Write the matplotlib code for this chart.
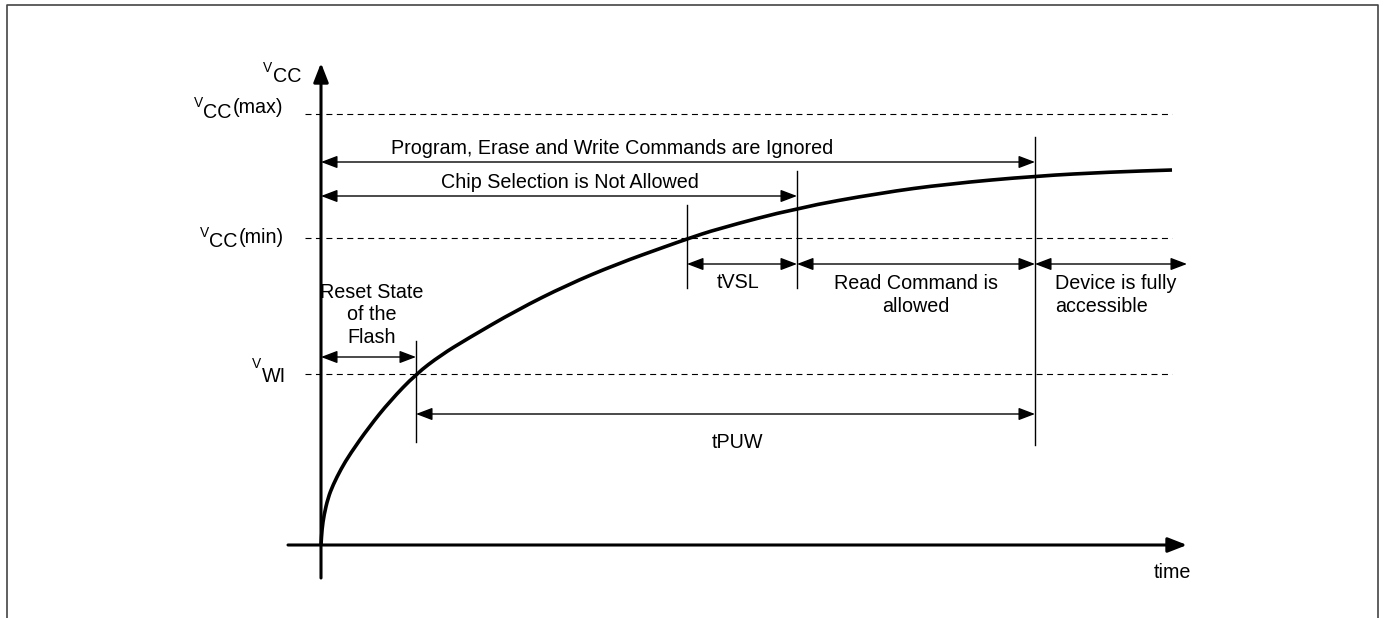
import numpy as np
import matplotlib.pyplot as plt
from matplotlib.path import Path
from matplotlib.patches import PathPatch

plt.rcParams['font.family'] = ['Liberation Sans', 'DejaVu Sans']

# supply voltage curve (time, volts in drawing units)
curve_t = [0, 1, 3, 7, 12, 20, 29, 48, 69, 95, 120, 146, 196, 246, 296, 346,
           366, 396, 476, 559, 626, 715, 790, 851]
curve_v = [0, 16, 30, 47, 60, 76, 91, 118, 144, 171, 190, 206, 235, 260, 281,
           299, 306, 316, 337, 352, 361, 369, 373, 375]

# threshold levels
v_wi = 171
v_min = 307
v_max = 431

# event times
t_wi = 95        # curve crosses VWI
t_min = 366      # curve crosses VCC(min)
t_vsl = 476      # end of tVSL
t_puw = 714      # end of tPUW
t_last = 851     # end of drawn curve
t_axis = 866     # tip of time axis

FS = 14.2
BLACK = 'black'

fig = plt.figure(figsize=(13.85, 6.18), dpi=100)
ax = fig.add_axes([0, 0, 1, 1])
ax.set_xlim(-321, 1064)
ax.set_ylim(-73, 545)
ax.axis('off')

# frame (open at the bottom)
ax.plot([0.005, 0.005, 0.995, 0.995], [0.0, 0.992, 0.992, 0.0],
        transform=ax.transAxes, color='#444444', lw=1.2, clip_on=False)


def arrow(t0, t1, v, style='<|-|>', lw=1.0, hl=1.0, hw=0.38, ms=10):
    ax.annotate('', xy=(t1, v), xytext=(t0, v),
                arrowprops=dict(arrowstyle=f'{style},head_length={hl},head_width={hw}',
                                mutation_scale=ms, lw=lw, color=BLACK,
                                shrinkA=0, shrinkB=0))


# axes with arrow heads
ax.annotate('', xy=(0, 482), xytext=(0, -33),
            arrowprops=dict(arrowstyle='-|>,head_length=1.15,head_width=0.45',
                            mutation_scale=10, lw=2.2, color=BLACK,
                            shrinkA=0, shrinkB=0))
ax.annotate('', xy=(t_axis, 0), xytext=(-33, 0),
            arrowprops=dict(arrowstyle='-|>,head_length=1.15,head_width=0.45',
                            mutation_scale=10, lw=2.2, color=BLACK,
                            shrinkA=0, shrinkB=0))
ax.text(t_last, -28, 'time', fontsize=FS, ha='center', va='center')

# dashed threshold lines
for lev in [v_max, v_min, v_wi]:
    ax.plot([-16, t_last], [lev, lev], color=BLACK, lw=0.8,
            linestyle=(0, (5.4, 4.0)))

# the supply curve, smoothed with quadratic segments between the read points
pts = np.column_stack([curve_t, curve_v]).astype(float)
mids = (pts[:-1] + pts[1:]) / 2
verts = [pts[0], mids[0]]
codes = [Path.MOVETO, Path.LINETO]
for i in range(1, len(pts) - 1):
    verts += [pts[i], mids[i]]
    codes += [Path.CURVE3, Path.CURVE3]
verts.append(pts[-1])
codes.append(Path.LINETO)
ax.add_patch(PathPatch(Path(verts, codes), fill=False, edgecolor=BLACK,
                       lw=2.6, capstyle='butt', joinstyle='round'))

# level labels: small raised V, big subscript, raised suffix
small = FS * 0.7
ax.text(-58, 473, 'V', fontsize=small, ha='left', va='baseline')
ax.text(-48, 463, 'CC', fontsize=FS, ha='left', va='baseline')

ax.text(-127, 438, 'V', fontsize=small, ha='left', va='baseline')
ax.text(-118, 427, 'CC', fontsize=FS, ha='left', va='baseline')
ax.text(-88, 432, '(max)', fontsize=FS, ha='left', va='baseline')

ax.text(-121, 308, 'V', fontsize=small, ha='left', va='baseline')
ax.text(-112, 298, 'CC', fontsize=FS, ha='left', va='baseline')
ax.text(-82, 302, '(min)', fontsize=FS, ha='left', va='baseline')

ax.text(-69, 177, 'V', fontsize=small, ha='left', va='baseline')
ax.text(-59, 163, 'WI', fontsize=FS, ha='left', va='baseline')

# vertical event markers
ax.plot([t_wi, t_wi], [103, 204], color=BLACK, lw=1.0)
ax.plot([t_min, t_min], [257, 340], color=BLACK, lw=1.0)
ax.plot([t_vsl, t_vsl], [257, 374], color=BLACK, lw=1.0)
ax.plot([t_puw, t_puw], [100, 408], color=BLACK, lw=1.0)

# dimension arrows and their texts
arrow(0, t_puw, 383)
ax.text(291, 397, 'Program, Erase and Write Commands are Ignored', fontsize=FS,
        ha='center', va='center')

arrow(0, t_vsl, 349)
ax.text(249, 362, 'Chip Selection is Not Allowed', fontsize=FS,
        ha='center', va='center')

arrow(t_min, t_vsl, 281)
ax.text(417, 262, 'tVSL', fontsize=FS, ha='center', va='center')

arrow(t_vsl, t_puw, 281)
ax.text(595, 250, 'Read Command is\nallowed', fontsize=FS, ha='center',
        va='center', multialignment='center', linespacing=1.25)

arrow(t_puw, t_axis, 281)
ax.text(734, 250, 'Device is fully\naccessible', fontsize=FS, ha='left',
        va='center', multialignment='left', linespacing=1.25)

arrow(0, t_wi, 188)
ax.text(51, 230, 'Reset State\nof the\nFlash', fontsize=FS, ha='center',
        va='center', multialignment='center', linespacing=1.25)

arrow(t_wi, t_puw, 131)
ax.text(416, 103, 'tPUW', fontsize=FS, ha='center', va='center')

fig.savefig('out.png', dpi=100)
